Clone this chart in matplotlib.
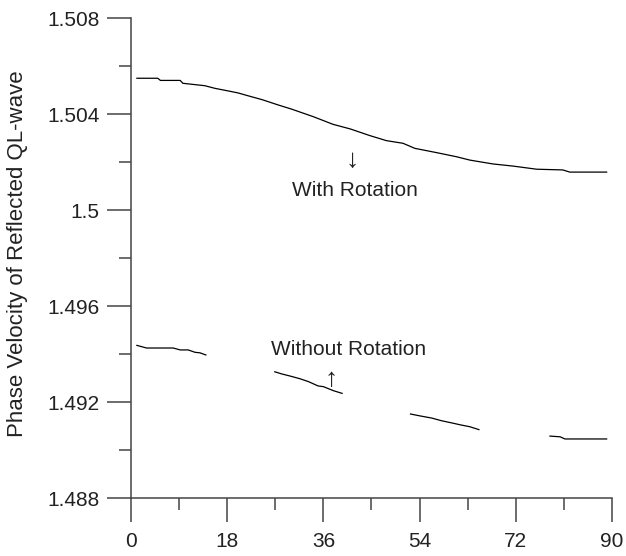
import matplotlib
matplotlib.use("Agg")
import matplotlib.pyplot as plt
from matplotlib.ticker import MultipleLocator, FuncFormatter

plt.rcParams["font.family"] = ["Liberation Sans", "DejaVu Sans"]

# --- curve with rotation (angle, phase velocity) ---
ang_rot = [1.1, 5.0, 5.5, 9.2, 9.7, 13.8, 15.7, 18.0, 20.0, 21.9, 24.5, 27.5,
           30.1, 34.1, 37.8, 41.0, 44.7, 47.8, 50.9, 53.1, 57.2, 60.9, 63.4,
           67.7, 71.5, 75.9, 80.8, 82.1, 89.0]
vel_rot = [1.50549, 1.50549, 1.50540, 1.50540, 1.50528, 1.50518, 1.50507,
           1.50497, 1.50488, 1.50476, 1.50460, 1.50438, 1.50420, 1.50389,
           1.50357, 1.50338, 1.50310, 1.50289, 1.50278, 1.50257, 1.50239,
           1.50222, 1.50208, 1.50192, 1.50183, 1.50170, 1.50167, 1.50158,
           1.50158]

# --- without rotation: four separate pieces ---
ang_norot = [
    [1.1, 2.9, 7.9, 9.2, 10.7, 12.0, 12.9, 14.0],
    [26.9, 28.2, 29.8, 31.6, 33.2, 35.0, 36.0, 37.9, 39.5],
    [52.3, 54.1, 56.3, 58.1, 60.0, 61.6, 63.4, 65.1],
    [78.4, 80.3, 81.2, 89.0],
]
vel_norot = [
    [1.49436, 1.49425, 1.49425, 1.49417, 1.49417, 1.49407, 1.49405, 1.49396],
    [1.49326, 1.49317, 1.49308, 1.49297, 1.49285, 1.49267, 1.49264, 1.49247,
     1.49236],
    [1.49150, 1.49142, 1.49133, 1.49122, 1.49113, 1.49105, 1.49097, 1.49085],
    [1.49058, 1.49055, 1.49046, 1.49046],
]

fig = plt.figure(figsize=(6.26, 5.56), dpi=100)
ax = fig.add_axes([0.2093, 0.1043, 0.7683, 0.8633])

ax.plot(ang_rot, vel_rot, color="black", lw=0.9)
for a, v in zip(ang_norot, vel_norot):
    ax.plot(a, v, color="black", lw=0.9)

ax.set_xlim(0, 90)
ax.set_ylim(1.488, 1.508)

# axes styling
for s in ["top", "right"]:
    ax.spines[s].set_visible(False)
for s in ["left", "bottom"]:
    ax.spines[s].set_color("#444444")
    ax.spines[s].set_linewidth(1.1)

ax.xaxis.set_major_locator(MultipleLocator(18))
ax.xaxis.set_minor_locator(MultipleLocator(9))
ax.yaxis.set_major_locator(MultipleLocator(0.004))
ax.yaxis.set_minor_locator(MultipleLocator(0.002))
ax.yaxis.set_major_formatter(FuncFormatter(lambda v, p: f"{v:.3f}".rstrip("0").rstrip(".")))

ax.tick_params(axis="both", which="major", direction="out", length=17.3, width=1.1,
               color="#444444", labelsize=15, labelcolor="#222222")
ax.tick_params(axis="both", which="minor", direction="out", length=8.6, width=1.1,
               color="#444444")
ax.tick_params(axis="y", which="major", pad=5.5)
ax.tick_params(axis="x", which="major", pad=7)

ax.set_ylabel("Phase Velocity of Reflected QL-wave", fontsize=16, color="#222222")
ax.yaxis.set_label_coords(-0.214, 0.51)

# labels with arrows
ax.text(41.9, 1.50083, "With Rotation", fontsize=15, color="#222222",
        ha="center", va="center")
ax.text(41.3, 1.50208, "↓", fontsize=19, color="#222222", ha="center", va="center")
ax.text(40.7, 1.49417, "Without Rotation", fontsize=15, color="#222222",
        ha="center", va="center")
ax.text(37.4, 1.49296, "↑", fontsize=19, color="#222222", ha="center", va="center")

fig.savefig("out.png", dpi=100)
